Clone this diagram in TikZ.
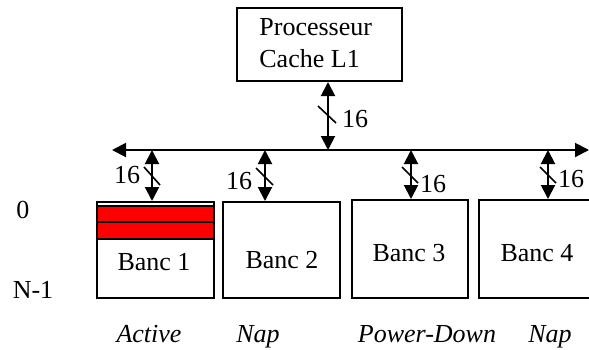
\documentclass[tikz,border=0pt]{standalone}
\usepackage{fontspec}
\setmainfont{Liberation Serif}
\usetikzlibrary{arrows.meta}
\begin{document}
\begin{tikzpicture}[x=0.5pt,y=-0.5pt,
  box/.style={draw, line width=1pt, inner sep=0pt},
  bus/.style={line width=1pt},
  tip/.tip={Triangle[length=7pt,width=7pt]},
  dbl/.style={line width=1pt, tip-tip},
  slash/.style={line width=0.8pt},
  lbl/.style={inner sep=0pt, anchor=base, font=\fontsize{13}{15}\selectfont},
  redbar/.style={fill=red, draw=black, line width=1pt}]
\useasboundingbox (0,0) rectangle (589,349);
% processor
\node[box, minimum width=82.5pt, minimum height=36.5pt] (proc) at (319.5,44.5) {};
\node[lbl, anchor=base west] (pt1) at (259,35) {Processeur};
\node[lbl, anchor=base west] (pt2) at (259,67) {Cache L1};
% bus
\coordinate (busL) at (112,150);
\coordinate (busR) at (589,150);
\draw[dbl] (busL) -- (busR);
\coordinate (pb) at (328,150);
\draw[dbl] (proc.south -| pb) -- (pb);
\draw[slash] (318,106) -- (336,123);
\node[lbl] (l0) at (355,127) {16};
% banks
\node[box, minimum width=58.5pt, minimum height=48pt] (b1) at (155.5,250) {};
\node[box, minimum width=58.5pt, minimum height=48pt] (b2) at (281.5,250) {};
\node[box, minimum width=58pt, minimum height=49pt] (b3) at (410,249) {};
\node[box, minimum width=58.5pt, minimum height=49pt] (b4) at (537.5,249) {};
\draw[redbar] (97,206) rectangle (214,222);
\draw[redbar] (97,222) rectangle (214,239);
\node[lbl] (bt1) at (154,270) {Banc 1};
\node[lbl] (bt2) at (282,268) {Banc 2};
\node[lbl] (bt3) at (409,261) {Banc 3};
\node[lbl] (bt4) at (537,261) {Banc 4};
% bank arrows
\coordinate (t1) at (152,150);
\coordinate (t2) at (265,150);
\coordinate (t3) at (411,150);
\coordinate (t4) at (548,150);
\draw[dbl] (t1) -- (t1 |- b1.north);
\draw[dbl] (t2) -- (t2 |- b2.north);
\draw[dbl] (t3) -- (t3 |- b3.north);
\draw[dbl] (t4) -- (t4 |- b4.north);
\draw[slash] (144,167) -- (160,185);
\draw[slash] (256,168) -- (273,185);
\draw[slash] (402,167) -- (418,183);
\draw[slash] (540,167) -- (556,183);
\node[lbl] (n1) at (127,183) {16};
\node[lbl] (n2) at (239,189) {16};
\node[lbl] (n3) at (433,192) {16};
\node[lbl] (n4) at (571,187) {16};
% row labels
\node[lbl] (r0) at (23,218) {0};
\node[lbl] (rn) at (33,298) {N-1};
% states
\node[lbl] (s1) at (149,342) {\itshape Active};
\node[lbl] (s2) at (258,342) {\itshape Nap};
\node[lbl] (s3) at (427,342) {\itshape Power-Down};
\node[lbl] (s4) at (550,342) {\itshape Nap};
\end{tikzpicture}
\end{document}
